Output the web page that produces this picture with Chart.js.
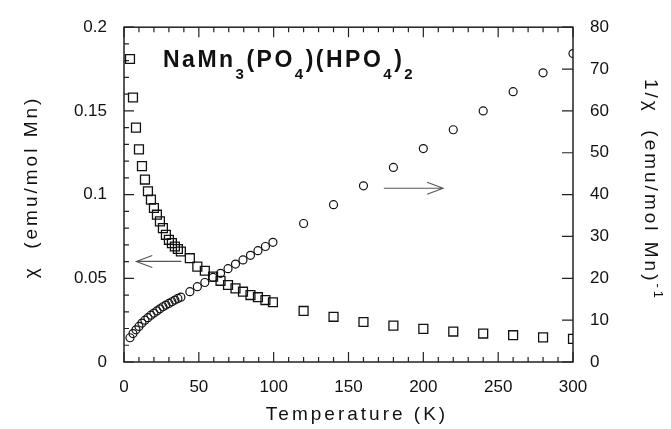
<!DOCTYPE html>
<html>
<head>
<meta charset="utf-8">
<script src="https://cdn.jsdelivr.net/npm/chart.js@4.4.1/dist/chart.umd.min.js"></script>
<style>
  html, body { margin: 0; padding: 0; background: #fff; }
</style>
</head>
<body>
<canvas id="chart" width="671" height="429"></canvas>
<script>
// ---- data ----
const temperature = [4, 6, 8, 10, 12, 14, 16, 18, 20, 22, 24, 26, 28, 30, 32, 34, 36, 38,
  44, 49, 54, 59.5, 64.5, 69.5, 74.5, 79.5, 84.5, 89.5, 94.5, 99.5,
  120, 140, 160, 180, 200, 220, 240, 260, 280, 300];

// chi (emu/mol Mn), squares, left axis
const chi = [0.181, 0.158, 0.140, 0.127, 0.117, 0.109, 0.102, 0.097, 0.092, 0.088, 0.084, 0.080,
  0.076, 0.073, 0.071, 0.069, 0.0675, 0.066,
  0.062, 0.057, 0.0545, 0.051, 0.0485, 0.046, 0.044, 0.042, 0.040, 0.0387, 0.037, 0.0357,
  0.0305, 0.027, 0.0239, 0.0217, 0.0198, 0.0182, 0.017, 0.016, 0.0147, 0.0138];

// 1/chi, circles, right axis
const invChi = [5.8, 6.8, 7.7, 8.5, 9.3, 10.0, 10.6, 11.2, 11.7, 12.2, 12.7, 13.2, 13.6, 14.0,
  14.4, 14.8, 15.2, 15.5,
  16.8, 18.0, 19.0, 20.2, 21.2, 22.3, 23.4, 24.4, 25.5, 26.6, 27.6, 28.6,
  33.1, 37.6, 42.1, 46.5, 51.0, 55.5, 60.0, 64.6, 69.1, 73.7];

const xTickValues = [0, 50, 100, 150, 200, 250, 300];
const chiTickValues = [0, 0.05, 0.1, 0.15, 0.2];
const chiTickLabels = ['0', '0.05', '0.1', '0.15', '0.2'];
const invTickValues = [0, 10, 20, 30, 40, 50, 60, 70, 80];

const FONT = "'Liberation Sans', Arial, Helvetica, sans-serif";
const INK = '#111';

function toPoints(xs, ys) {
  return xs.map((t, i) => ({ x: t, y: ys[i] }));
}

// draws text pieces with sub/superscripts, starting at x (baseline y)
function richWidth(ctx, parts) {
  let w = 0;
  parts.forEach(p => { ctx.font = p.font; w += ctx.measureText(p.text).width; });
  return w;
}
function drawRich(ctx, parts, x, y) {
  parts.forEach(p => {
    ctx.font = p.font;
    ctx.fillText(p.text, x, y + (p.dy || 0));
    x += ctx.measureText(p.text).width;
  });
}

const decor = {
  id: 'decor',
  beforeDatasetsDraw(chart) {
    const { ctx, chartArea: a, scales: { x, y, y1 } } = chart;
    ctx.save();
    ctx.strokeStyle = '#222';
    ctx.lineWidth = 1.5;
    ctx.strokeRect(a.left, a.top, a.right - a.left, a.bottom - a.top);

    ctx.lineWidth = 1.2;
    ctx.beginPath();
    // temperature ticks, bottom and top, pointing inward
    for (let t = 0; t <= 300; t += 10) {
      const px = x.getPixelForValue(t);
      const len = t % 50 === 0 ? 10 : 5;
      ctx.moveTo(px, a.bottom); ctx.lineTo(px, a.bottom - len);
      ctx.moveTo(px, a.top); ctx.lineTo(px, a.top + len);
    }
    // chi ticks, left
    for (let i = 0; i <= 20; i++) {
      const py = y.getPixelForValue(i * 0.01);
      const len = i % 5 === 0 ? 10 : 5;
      ctx.moveTo(a.left, py); ctx.lineTo(a.left + len, py);
    }
    // 1/chi ticks, right
    invTickValues.forEach(v => {
      const py = y1.getPixelForValue(v);
      ctx.moveTo(a.right, py); ctx.lineTo(a.right - 11, py);
    });
    ctx.stroke();
    ctx.restore();
  },
  afterDraw(chart) {
    const { ctx, scales: { x, y, y1 } } = chart;
    ctx.save();
    ctx.fillStyle = INK;
    ctx.textBaseline = 'alphabetic';

    // arrows pointing to each axis
    function arrow(x0, x1, py) {
      const dir = Math.sign(x1 - x0);
      ctx.beginPath();
      ctx.moveTo(x0, py); ctx.lineTo(x1, py);
      ctx.moveTo(x1 - dir * 16, py - 6); ctx.lineTo(x1, py); ctx.lineTo(x1 - dir * 16, py + 6);
      ctx.stroke();
    }
    ctx.strokeStyle = '#555';
    ctx.lineWidth = 1.1;
    arrow(x.getPixelForValue(38.3), x.getPixelForValue(8.2), y.getPixelForValue(0.0601));
    arrow(x.getPixelForValue(173.6), x.getPixelForValue(213.2), y1.getPixelForValue(41.5));

    // compound label
    ctx.letterSpacing = '2.5px';
    const big = `bold 23px ${FONT}`, small = `bold 15px ${FONT}`;
    drawRich(ctx, [
      { text: 'NaMn', font: big }, { text: '3', font: small, dy: 12 },
      { text: '(PO', font: big }, { text: '4', font: small, dy: 12 },
      { text: ')(HPO', font: big }, { text: '4', font: small, dy: 12 },
      { text: ')', font: big }, { text: '2', font: small, dy: 12 }
    ], 163, 67);

    // axis titles
    ctx.letterSpacing = '3px';
    const tf = `19px ${FONT}`;
    ctx.font = tf;
    ctx.textAlign = 'center';
    ctx.fillText('Temperature (K)', 357, 420);
    ctx.textAlign = 'left';

    let parts = [{ text: 'χ  (emu/mol Mn)', font: tf }];
    let w = richWidth(ctx, parts);
    ctx.save();
    ctx.translate(30, 187);
    ctx.rotate(-Math.PI / 2);
    drawRich(ctx, parts, -w / 2, 7);
    ctx.restore();

    parts = [{ text: '1/χ  (emu/mol Mn)', font: tf }, { text: '-1', font: `13px ${FONT}`, dy: -9 }];
    w = richWidth(ctx, parts);
    ctx.save();
    ctx.translate(652, 190);
    ctx.rotate(Math.PI / 2);
    drawRich(ctx, parts, -w / 2, 7);
    ctx.restore();

    ctx.restore();
  }
};

const tickFont = { family: FONT, size: 17 };

new Chart(document.getElementById('chart'), {
  type: 'scatter',
  data: {
    datasets: [
      {
        label: 'chi',
        data: toPoints(temperature, chi),
        yAxisID: 'y',
        pointStyle: 'rect',
        pointRadius: 6.3,
        borderColor: INK,
        borderWidth: 1.3,
        backgroundColor: 'rgba(0,0,0,0)'
      },
      {
        label: '1/chi',
        data: toPoints(temperature, invChi),
        yAxisID: 'y1',
        pointStyle: 'circle',
        pointRadius: 4,
        borderColor: INK,
        borderWidth: 1.2,
        backgroundColor: 'rgba(0,0,0,0)'
      }
    ]
  },
  options: {
    responsive: false,
    animation: false,
    layout: { padding: { top: 24, left: 0, right: 0, bottom: 0 } },
    plugins: { legend: { display: false }, tooltip: { enabled: false } },
    scales: {
      x: {
        type: 'linear', min: 0, max: 300,
        afterBuildTicks: s => { s.ticks = xTickValues.map(v => ({ value: v })); },
        afterFit: s => { s.height = 67; },
        grid: { display: false, drawTicks: false },
        border: { display: false },
        ticks: { font: tickFont, color: INK, padding: 15, maxRotation: 0, autoSkip: false,
                 callback: v => String(v) }
      },
      y: {
        type: 'linear', position: 'left', min: 0, max: 0.2,
        afterBuildTicks: s => { s.ticks = chiTickValues.map(v => ({ value: v })); },
        afterFit: s => { s.width = 124; },
        grid: { display: false, drawTicks: false },
        border: { display: false },
        ticks: { font: tickFont, color: INK, padding: 17, autoSkip: false,
                 callback: (v, i) => chiTickLabels[i] }
      },
      y1: {
        type: 'linear', position: 'right', min: 0, max: 80,
        afterBuildTicks: s => { s.ticks = invTickValues.map(v => ({ value: v })); },
        afterFit: s => { s.width = 98; },
        grid: { display: false, drawTicks: false },
        border: { display: false },
        ticks: { font: tickFont, color: INK, padding: 17, autoSkip: false,
                 callback: v => String(v) }
      }
    }
  },
  plugins: [decor]
});
</script>
</body>
</html>
